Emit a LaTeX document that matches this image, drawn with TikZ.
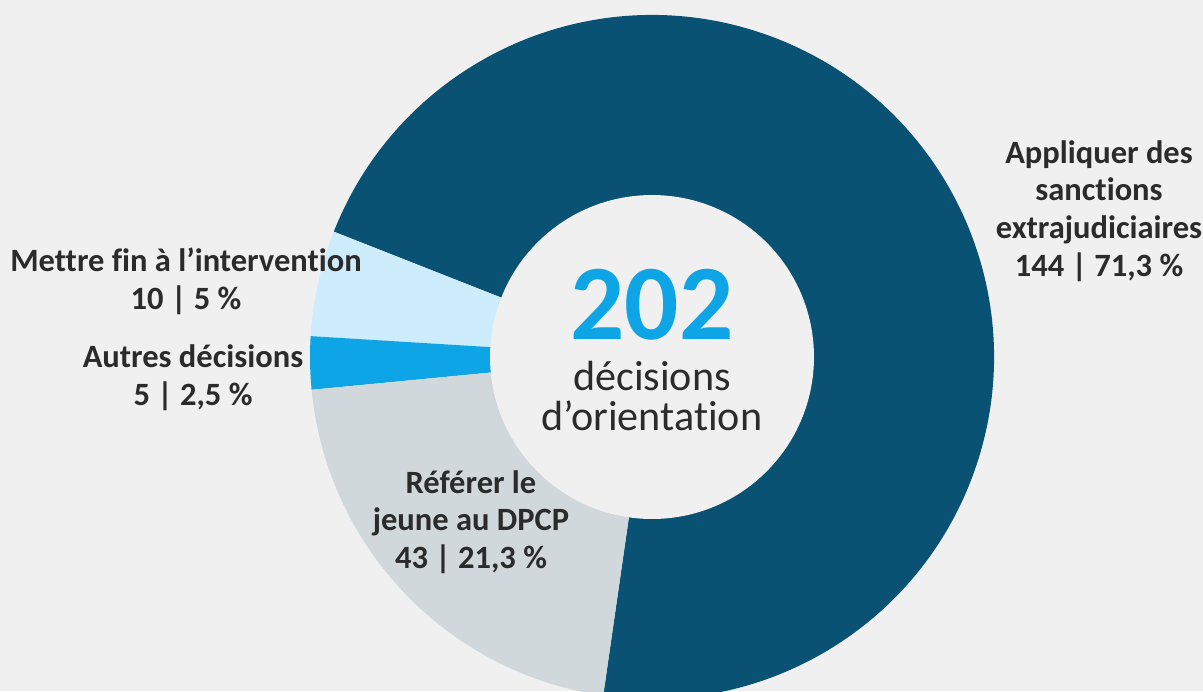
\documentclass[tikz,border=0pt]{standalone}
\usepackage{fontspec}
\setmainfont{Carlito}[Ligatures=NoCommon]
\usetikzlibrary{positioning}

\definecolor{paper}{RGB}{240,240,240}
\definecolor{ink}{RGB}{43,43,43}
\definecolor{sancblue}{RGB}{10,82,115}
\definecolor{finblue}{RGB}{205,236,252}
\definecolor{autblue}{RGB}{13,165,230}
\definecolor{dpcpgray}{RGB}{208,216,219}

\begin{document}
\begin{tikzpicture}[x=0.02cm, y=0.02cm,
	label/.style={align=center, inner sep=0pt, text=ink, font=\fontsize{18.5}{21.5}\selectfont\bfseries}]
	\useasboundingbox (0,0) rectangle (1203,691);
	\fill[paper] (0,0) rectangle (1203,691);
	\coordinate (c) at (652,334);
	
	\begin{scope}
		\clip (0,0) rectangle (1203,691);
		\foreach \a/\b/\col in {158.5/-98.2/sancblue, 176.5/158.5/finblue, 185.5/176.5/autblue, 261.8/185.5/dpcpgray}
			\fill[\col] (c) -- ++(\a:342) arc[start angle=\a, end angle=\b, radius=342] -- cycle;
	\end{scope}
	\node[circle, fill=paper, minimum size=6.48cm, inner sep=0pt] (hole) at (c) {};
	
	\node[anchor=base, inner sep=0pt, text=autblue, font=\fontsize{61}{61}\selectfont\bfseries] (total) at (652,352) {202};
	\node[align=center, inner sep=0pt, text=ink, font=\fontsize{24}{23}\selectfont] (caption) at (652,295) {décisions\\d’orientation};
	
	\node[label] (sanctions) at (1099,480) {Appliquer des\\sanctions\\extrajudiciaires\\144 | 71,3 \%};
	\node[label] (fin) at (186,410) {Mettre fin à l’intervention\\10 | 5 \%};
	\node[label] (autres) at (193,313) {Autres décisions\\5 | 2,5 \%};
	\node[label] (dpcp) at (471,169) {Référer le\\jeune au DPCP\\43 | 21,3 \%};
\end{tikzpicture}
\end{document}
